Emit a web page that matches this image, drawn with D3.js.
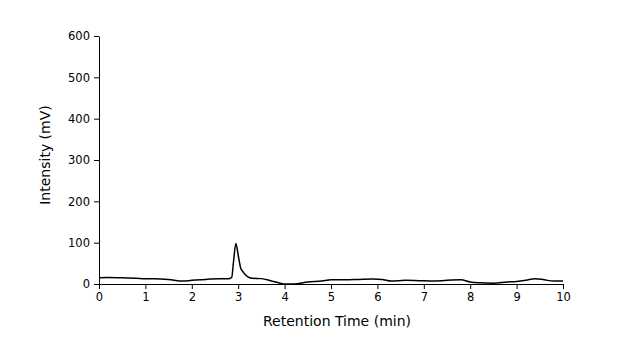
<!DOCTYPE html>
<html><head><meta charset="utf-8">
<script src="https://cdn.jsdelivr.net/npm/d3@7"></script>
<style>body{margin:0;background:#fff;} text{font-family:"DejaVu Sans",Verdana,sans-serif;}</style>
</head><body><svg id="c" width="620" height="356"></svg>
<script>
const times = [0,0.2,0.5,0.8,1.0,1.2,1.5,1.8,2.0,2.3,2.6,2.8,2.86,2.9,2.95,3.0,3.05,3.1,3.2,3.3,3.5,3.7,3.9,4.0,4.2,4.5,4.8,5.0,5.3,5.6,5.9,6.1,6.3,6.6,6.9,7.2,7.5,7.8,8.0,8.2,8.5,8.8,9.0,9.2,9.4,9.6,9.8,10];
const intensity = [15,16,15,14,13,13,11,7,9,11,13,13,16,55,98,70,40,30,18,14,13,8,2,0,0,5,7,10,10,11,12,11,7,9,8,7,9,10,5,3,2,5,6,9,13,10,7,7];
const xTicks = [0,1,2,3,4,5,6,7,8,9,10];
const yTicks = [0,100,200,300,400,500,600];

const svg = d3.select("#c");
const x = d3.scaleLinear().domain([0,10]).range([99,563]);
const y = d3.scaleLinear().domain([0,600]).range([284,36]);

const xa = svg.append("g").attr("transform","translate(0,284)")
  .call(d3.axisBottom(x).tickValues(xTicks).tickSize(5).tickSizeOuter(0).tickPadding(4));
const ya = svg.append("g").attr("transform","translate(99,0)")
  .call(d3.axisLeft(y).tickValues(yTicks).tickSize(5).tickSizeOuter(0).tickPadding(4));
[xa,ya].forEach(a=>{
  a.selectAll("path,line").attr("stroke","#000");
  a.selectAll("text").attr("font-size","11.5px").attr("fill","#000").style("font-family","'DejaVu Sans',Verdana,sans-serif");
});

const data = times.map((t,i)=>[t,intensity[i]]);
svg.append("path").datum(data)
  .attr("fill","none").attr("stroke","#000").attr("stroke-width",1.5)
  .attr("d", d3.line().x(d=>x(d[0])).y(d=>y(d[1])).curve(d3.curveMonotoneX));

svg.append("text").attr("x",337).attr("y",326).attr("text-anchor","middle")
  .attr("font-size","14px").attr("fill","#000").text("Retention Time (min)");
svg.append("text").attr("transform","translate(50,155) rotate(-90)").attr("text-anchor","middle")
  .attr("font-size","14px").attr("fill","#000").text("Intensity (mV)");
</script></body></html>
